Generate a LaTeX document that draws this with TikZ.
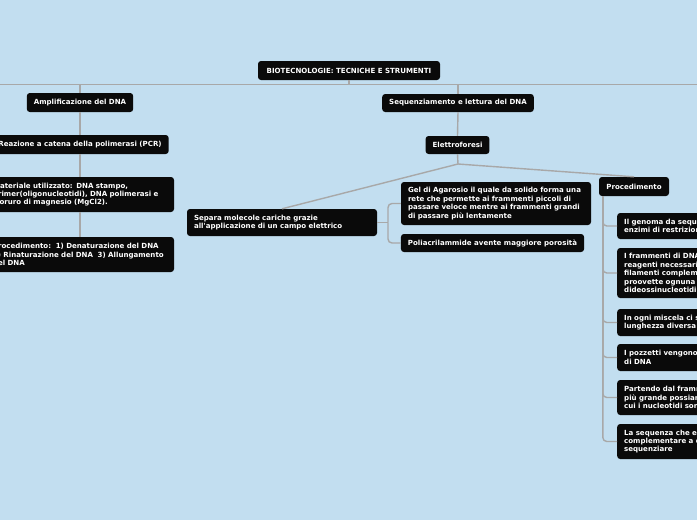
\documentclass[tikz,border=0pt]{standalone}
\usepackage{fontspec}
\newfontfamily\boxfont{DejaVu Sans}
\usetikzlibrary{calc}
\definecolor{bg}{RGB}{194,222,240}
\definecolor{boxc}{RGB}{10,10,10}
\definecolor{linec}{RGB}{168,168,168}
\tikzset{
  mbox/.style={fill=boxc, text=white, rounded corners=3pt,
    font=\boxfont\bfseries\fontsize{7.05}{8.4}\selectfont,
    inner xsep=7pt, inner ysep=0pt, align=left},
  conn/.style={draw=linec, line width=1.4pt},
}
\begin{document}
\begin{tikzpicture}[x=1pt,y=-1pt]
\fill[bg] (0,0) rectangle (697,520);
\useasboundingbox (0,0) rectangle (697,520);
\clip (0,0) rectangle (697,520);

% nodes
\node[mbox, minimum width=182pt, minimum height=19pt] (root) at (349,70.5) {BIOTECNOLOGIE: TECNICHE E STRUMENTI};
\node[mbox, minimum width=106pt, minimum height=19pt] (amp) at (80,102.5) {Amplificazione del DNA};
\node[mbox, minimum width=150pt, minimum height=18pt] (seq) at (458,103) {Sequenziamento e lettura del DNA};
\node[mbox, minimum width=176pt, minimum height=19pt] (pcr) at (80,144.5) {Reazione a catena della polimerasi (PCR)};
\node[mbox, text width=174pt, minimum height=35pt] (mat) at (80,194.5) {Materiale utilizzato: DNA stampo,\\primer(oligonucleotidi), DNA polimerasi e\\cloruro di magnesio (MgCl2).};
\node[mbox, text width=174pt, minimum height=35pt] (procl) at (80,254.5) {Procedimento:\ \ 1) Denaturazione del DNA\\2) Rinaturazione del DNA\ \ 3) Allungamento\\del DNA};
\node[mbox, minimum width=63pt, minimum height=18pt] (elet) at (457.5,145) {Elettroforesi};
\node[mbox, text width=176pt, minimum height=27pt] (sep) at (282,222.5) {Separa molecole cariche grazie\\all'applicazione di un campo elettrico};
\node[mbox, text width=176pt, minimum height=43pt] (gel) at (496,203.5) {Gel di Agarosio il quale da solido forma una\\rete che permette ai frammenti piccoli di\\passare veloce mentre ai frammenti grandi\\di passare più lentamente};
\node[mbox, minimum width=183pt, minimum height=18pt] (poli) at (492.5,243) {Poliacrilammide avente maggiore porosità};
\node[mbox, minimum width=70pt, minimum height=19pt] (procr) at (634,186.5) {Procedimento};
\node[mbox, text width=180pt, minimum height=26pt, anchor=west] (r1) at (617,226) {Il genoma da sequenziare viene\\enzimi di restrizione};
\node[mbox, text width=180pt, minimum height=50pt, anchor=west] (r2) at (617,273) {I frammenti di DNA vengono\\reagenti necessari\\filamenti complementari\\proovette ognuna con\\dideossinucleotidi};
\node[mbox, text width=180pt, minimum height=27pt, anchor=west] (r3) at (617,322.5) {In ogni miscela ci sono\\lunghezza diversa};
\node[mbox, text width=180pt, minimum height=27pt, anchor=west] (r4) at (617,357.5) {I pozzetti vengono\\di DNA};
\node[mbox, text width=180pt, minimum height=35pt, anchor=west] (r5) at (617,397.5) {Partendo dal frammento\\più grande possiamo\\cui i nucleotidi sono};
\node[mbox, text width=180pt, minimum height=35pt, anchor=west] (r6) at (617,441.5) {La sequenza che e\\complementare a quella\\sequenziare};

% connectors
\coordinate (hl) at (0,84.5);
\coordinate (hr) at (697,84.5);
\draw[conn] (hl) -- (hr);
\draw[conn] (root.south) -- (root.south |- hl);
\draw[conn] (amp.north) -- (amp.north |- hl);
\draw[conn] (seq.north) -- (seq.north |- hl);
\draw[conn] (amp.south) -- (pcr.north);
\draw[conn] (pcr.south) -- (mat.north);
\draw[conn] (mat.south) -- (procl.north);
\draw[conn] (seq.south) -- (elet.north);
\coordinate (ej) at (458,164);
\draw[conn] (elet.south) -- (ej);
\draw[conn] (ej) -- (sep.north);
\draw[conn] (ej) -- (procr.north);
\coordinate (br) at (388,222.5);
\draw[conn] (sep.east) -- (br);
\draw[conn, rounded corners=4pt] (br) |- (gel.west);
\draw[conn, rounded corners=4pt] (br) |- (poli.west);
\coordinate (vr) at ($(procr.south west)+(4,0)$);
\foreach \r in {r1,r2,r3,r4,r5,r6}{
  \draw[conn, rounded corners=4pt] (vr) |- (\r.west);
}
\end{tikzpicture}
\end{document}
